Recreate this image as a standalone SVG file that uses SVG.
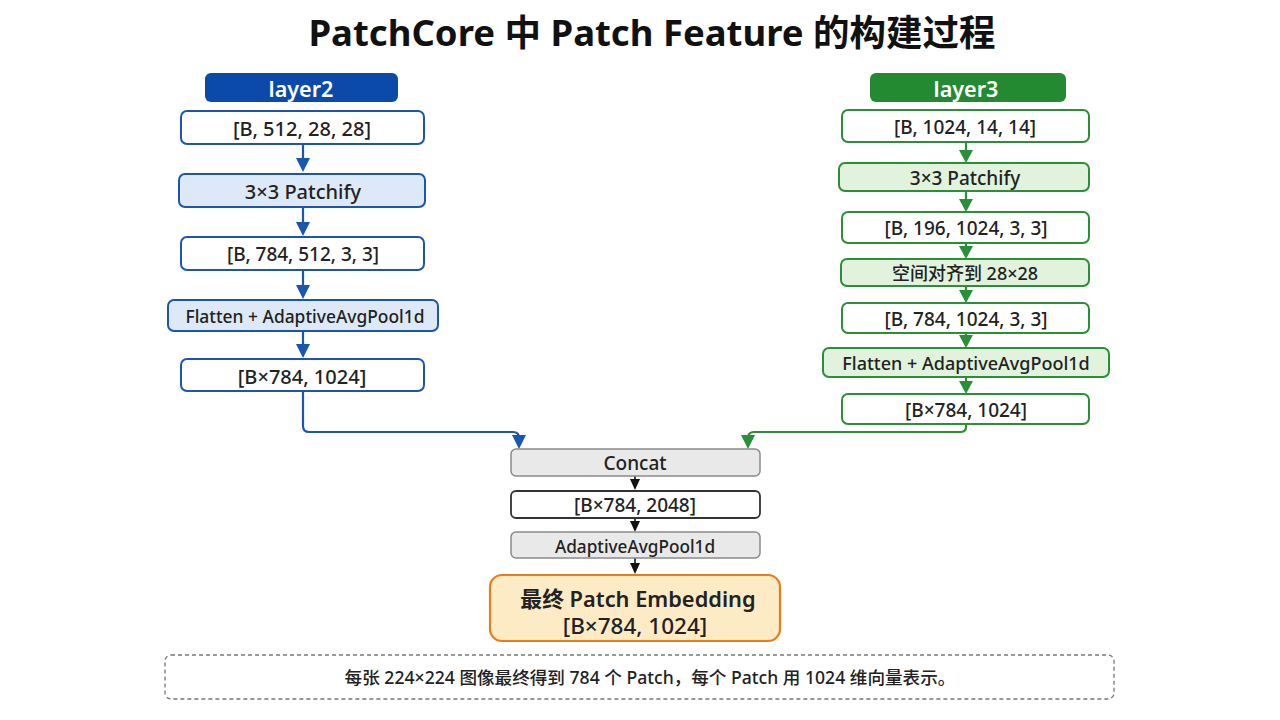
<svg xmlns="http://www.w3.org/2000/svg" width="1280" height="720" viewBox="0 0 1280 720">
<defs>
<style>
text{font-family:"Noto Sans","Noto Sans CJK SC",sans-serif;fill:#222;text-anchor:middle;dominant-baseline:central;font-weight:500}
.t{font-size:36.5px;font-weight:700;fill:#111}
.hd{font-size:21.6px;font-weight:600;fill:#fff}
.s20{font-size:20px}
.s19{font-size:19px}
.s18{font-size:18px}
.s17{font-size:17.4px}
.bw{fill:#fff;stroke:#1a56b0;stroke-width:2}
.bf{fill:#dde9f7;stroke:#1a56b0;stroke-width:2}
.gw{fill:#fff;stroke:#2a8f36;stroke-width:2}
.gf{fill:#e1f3dd;stroke:#2a8f36;stroke-width:2}
.cf{fill:#e9e9e9;stroke:#8a8a8a;stroke-width:1.5}
.cw{fill:#fff;stroke:#333;stroke-width:1.8}
.cb{stroke:#1a56b0;stroke-width:2.2;fill:none}
.cg{stroke:#2a8f36;stroke-width:2.2;fill:none}
.ck{stroke:#111;stroke-width:1.6;fill:none}
.hb{fill:#1a56b0}
.hg{fill:#2a8f36}
.hk{fill:#111}
</style>
</defs>
<rect width="1280" height="720" fill="#fff"/>
<text class="t" x="652" y="32">PatchCore 中 Patch Feature 的构建过程</text>

<g id="connectors">
<path class="cb" d="M303,144V160"/><path class="hb" d="M296,158L303,172L310,158z"/>
<path class="cb" d="M303,207V224"/><path class="hb" d="M296,222L303,236L310,222z"/>
<path class="cb" d="M303,270V287"/><path class="hb" d="M296,285L303,299L310,285z"/>
<path class="cb" d="M303,331V346"/><path class="hb" d="M296,344L303,358L310,344z"/>
<path class="cb" d="M303,391V426Q303,432 309,432H513Q519,432 519,438V440"/><path class="hb" d="M512,435L519,449L526,435z"/>

<path class="cg" d="M966,142V152"/><path class="hg" d="M959,150L966,163L973,150z"/>
<path class="cg" d="M966,191V201"/><path class="hg" d="M959,199L966,212L973,199z"/>
<path class="cg" d="M966,243V248"/><path class="hg" d="M959,246L966,259L973,246z"/>
<path class="cg" d="M966,286V292"/><path class="hg" d="M959,290L966,303L973,290z"/>
<path class="cg" d="M966,333V337"/><path class="hg" d="M959,335L966,348L973,335z"/>
<path class="cg" d="M966,377V383"/><path class="hg" d="M959,381L966,394L973,381z"/>
<path class="cg" d="M966,424V427Q966,432 960,432H754Q748,432 748,438V440"/><path class="hg" d="M741,435L748,449L755,435z"/>

<path class="ck" d="M635,476V481"/><path class="hk" d="M630,479L635,490L640,479z"/>
<path class="ck" d="M635,518V523"/><path class="hk" d="M630,521L635,532L640,521z"/>
<path class="ck" d="M635,558V565"/><path class="hk" d="M630,563L635,574L640,563z"/>
</g>

<g id="layer2"><rect x="205" y="73" width="193" height="29" rx="6" fill="#0b4aa8"/><text class="hd" x="301" y="88">layer2</text></g>
<g id="l2-in"><rect class="bw" x="181" y="111" width="243" height="33" rx="6"/><text class="s20" x="302" y="128">[B, 512, 28, 28]</text></g>
<g id="l2-patchify"><rect class="bf" x="179" y="174" width="246" height="33" rx="6"/><text class="s20" x="303" y="191">3×3 Patchify</text></g>
<g id="l2-patches"><rect class="bw" x="181" y="237" width="243" height="33" rx="6"/><text class="s19" x="303" y="254">[B, 784, 512, 3, 3]</text></g>
<g id="l2-pool"><rect class="bf" x="168" y="300" width="270" height="31" rx="6"/><text class="s17" x="305" y="316">Flatten + AdaptiveAvgPool1d</text></g>
<g id="l2-out"><rect class="bw" x="181" y="359" width="243" height="32" rx="6"/><text class="s20" x="302" y="376">[B×784, 1024]</text></g>

<g id="layer3"><rect x="870" y="73" width="196" height="29" rx="6" fill="#238a31"/><text class="hd" x="966" y="88">layer3</text></g>
<g id="l3-in"><rect class="gw" x="842" y="110" width="247" height="32" rx="6"/><text class="s19" x="965" y="127">[B, 1024, 14, 14]</text></g>
<g id="l3-patchify"><rect class="gf" x="839" y="163" width="250" height="28" rx="6"/><text class="s19" x="965" y="178">3×3 Patchify</text></g>
<g id="l3-patches"><rect class="gw" x="842" y="212" width="247" height="31" rx="6"/><text class="s19" x="966" y="228">[B, 196, 1024, 3, 3]</text></g>
<g id="l3-align"><rect class="gf" x="841" y="259" width="248" height="27" rx="6"/><text class="s18" x="965" y="273">空间对齐到 28×28</text></g>
<g id="l3-patches2"><rect class="gw" x="842" y="303" width="247" height="30" rx="6"/><text class="s19" x="966" y="319">[B, 784, 1024, 3, 3]</text></g>
<g id="l3-pool"><rect class="gf" x="823" y="348" width="286" height="29" rx="6"/><text class="s18" x="966" y="363">Flatten + AdaptiveAvgPool1d</text></g>
<g id="l3-out"><rect class="gw" x="842" y="394" width="247" height="30" rx="6"/><text class="s19" x="966" y="410">[B×784, 1024]</text></g>

<g id="concat"><rect class="cf" x="511" y="449" width="249" height="27" rx="5"/><text class="s19" x="635" y="463">Concat</text></g>
<g id="concat-out"><rect class="cw" x="511" y="491" width="249" height="27" rx="5"/><text class="s19" x="635" y="505">[B×784, 2048]</text></g>
<g id="final-pool"><rect class="cf" x="511" y="532" width="249" height="26" rx="5"/><text x="635" y="546" style="font-size:17.2px">AdaptiveAvgPool1d</text></g>
<g id="embedding"><rect x="490" y="575" width="290" height="66" rx="12" fill="#fdebc6" stroke="#ea7c1c" stroke-width="2.2"/><text x="638" y="598" style="font-size:21.8px;font-weight:600">最终 Patch Embedding</text><text x="635" y="625" style="font-size:22.5px">[B×784, 1024]</text></g>

<g id="note"><rect x="165" y="655" width="949" height="44" rx="6" fill="#fff" stroke="#777" stroke-width="1.3" stroke-dasharray="4 3"/><text x="650" y="677" style="font-size:17.6px">每张 224×224 图像最终得到 784 个 Patch，每个 Patch 用 1024 维向量表示。</text></g>
</svg>
